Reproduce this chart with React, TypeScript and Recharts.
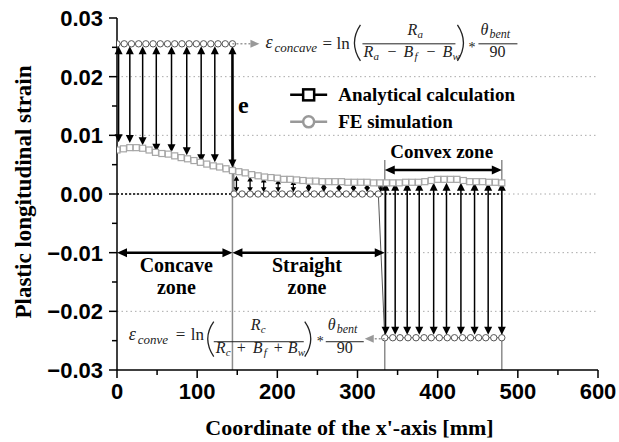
import React from 'react';
import { ComposedChart, Line, XAxis, YAxis, ReferenceLine, ReferenceDot } from 'recharts';

// FE simulation curve (square markers), x' in mm
const feX = [0, 8, 16, 24, 32, 40, 48, 56, 64, 72, 80, 88, 96, 104, 112, 120, 128, 136, 144, 152, 160, 168, 176, 184, 192, 200, 208, 216, 224, 232, 240, 248, 256, 264, 272, 280, 288, 296, 304, 312, 320, 328, 336, 344, 352, 360, 368, 376, 384, 392, 400, 408, 416, 424, 432, 440, 448, 456, 464, 472, 480];
const feStrain = [0.0075, 0.0077, 0.0079, 0.0079, 0.0078, 0.0075, 0.0071, 0.0069, 0.0068, 0.0065, 0.0062, 0.006, 0.0057, 0.0054, 0.0051, 0.0048, 0.0046, 0.0043, 0.004, 0.0038, 0.0036, 0.0033, 0.0031, 0.0029, 0.0028, 0.0027, 0.0025, 0.0025, 0.0024, 0.0023, 0.0022, 0.0022, 0.0021, 0.0021, 0.0021, 0.0021, 0.002, 0.002, 0.002, 0.002, 0.0019, 0.0019, 0.0019, 0.0019, 0.0019, 0.002, 0.002, 0.002, 0.0021, 0.0023, 0.0025, 0.0025, 0.0025, 0.0025, 0.0023, 0.0021, 0.0021, 0.0021, 0.002, 0.002, 0.0019];

// Analytical calculation (step, circle markers)
const anaX = [0, 9, 18, 27, 36, 45, 54, 63, 72, 81, 90, 99, 108, 117, 126, 135, 144, 146, 156, 166, 176, 186, 196, 206, 216, 226, 236, 246, 256, 266, 276, 286, 296, 306, 316, 326, 334, 344, 353, 363, 373, 383, 392, 402, 412, 421, 431, 441, 451, 460, 470, 480];
const anaStrain = [0.0256, 0.0256, 0.0256, 0.0256, 0.0256, 0.0256, 0.0256, 0.0256, 0.0256, 0.0256, 0.0256, 0.0256, 0.0256, 0.0256, 0.0256, 0.0256, 0.0256, 0, 0, 0, 0, 0, 0, 0, 0, 0, 0, 0, 0, 0, 0, 0, 0, 0, 0, 0, -0.0245, -0.0245, -0.0245, -0.0245, -0.0245, -0.0245, -0.0245, -0.0245, -0.0245, -0.0245, -0.0245, -0.0245, -0.0245, -0.0245, -0.0245, -0.0245];

// difference arrows
const concaveArrowX = [2, 16, 32, 49, 68, 87, 105, 122, 144];
const concaveArrowLow = [0.0088, 0.0087, 0.0083, 0.0072, 0.0071, 0.0066, 0.0054, 0.0054, 0.0045];
const concaveArrowHigh = 0.0252;
const straightArrowX = [149, 166, 183, 201, 220, 239, 258, 277, 295, 312, 329];
const straightArrowHigh = [0.0031, 0.003, 0.0028, 0.0025, 0.0024, 0.0019, 0.0019, 0.0018, 0.0018, 0.0018, 0.0021];
const straightArrowLow = 0.0003;
const convexArrowX = [335, 347, 362, 377, 395, 411, 429, 446, 463, 480];
const convexArrowHigh = 0.0019;
const convexArrowLow = -0.024;

// zones
const zoneBounds = [0, 144, 334, 480];
const zoneNames = ['Concave', 'Straight', 'Convex zone'];
const zoneLabelX = [74, 237, 405];
const zoneArrowY = [-0.01, -0.01, 0.0041];
const zoneLineTop = [0.0256, 0.0058, 0.0058];

const xTicks = [0, 50, 100, 150, 200, 250, 300, 350, 400, 450, 500, 550, 600];
const yTicks = [-0.03, -0.025, -0.02, -0.015, -0.01, -0.005, 0, 0.005, 0.01, 0.015, 0.02, 0.025, 0.03];
const yGrid = [0.02, 0.01, 0, -0.01, -0.02];

const feData = feX.map((x, i) => ({ x, strain: feStrain[i] }));
const anaData = anaX.map((x, i) => ({ x, strain: anaStrain[i] }));

const SANS = '"Liberation Sans", Arial, sans-serif';
const SERIF = '"Liberation Serif", "Times New Roman", serif';

const YTick = (p: any) => {
  const v = p.payload.value;
  const major = Math.abs(v * 100 - Math.round(v * 100)) < 1e-6;
  const txt = v.toFixed(2).replace('-', '\u2212');
  return (
    <g>
      <line x1={p.x - (major ? 8 : 5)} x2={p.x} y1={p.y} y2={p.y} stroke="#000" strokeWidth={1.5} />
      {major && (
        <text x={p.x - 14} y={p.y + 8} textAnchor="end" fontFamily={SANS} fontWeight="bold" fontSize={22} fill="#000">
          {txt}
        </text>
      )}
    </g>
  );
};

const XTick = (p: any) => {
  const v = p.payload.value;
  const major = v % 100 === 0;
  return (
    <g>
      <line x1={p.x} x2={p.x} y1={p.y} y2={p.y + (major ? 8 : 5)} stroke="#000" strokeWidth={1.5} />
      {major && (
        <text x={p.x} y={p.y + 29} textAnchor="middle" fontFamily={SANS} fontWeight="bold" fontSize={22} fill="#000">
          {v}
        </text>
      )}
    </g>
  );
};

// double headed arrow drawn along a reference segment
const arrow = (w: number, len: number, half: number) => (p: any) => {
  const { x1, y1, x2, y2 } = p;
  const L = Math.hypot(x2 - x1, y2 - y1) || 1;
  const ux = (x2 - x1) / L;
  const uy = (y2 - y1) / L;
  const nx = -uy;
  const ny = ux;
  const head = (tx: number, ty: number, dx: number, dy: number) =>
    `${tx},${ty} ${tx - dx * len + nx * half},${ty - dy * len + ny * half} ${tx - dx * len - nx * half},${ty - dy * len - ny * half}`;
  const inset = Math.min(len * 0.7, L / 2);
  return (
    <g>
      <line x1={x1 + ux * inset} y1={y1 + uy * inset} x2={x2 - ux * inset} y2={y2 - uy * inset} stroke="#000" strokeWidth={w} />
      <polygon points={head(x2, y2, ux, uy)} fill="#000" />
      <polygon points={head(x1, y1, -ux, -uy)} fill="#000" />
    </g>
  );
};

const SquareDot = (p: any) => (
  <rect key={`s${p.index}`} x={p.cx - 3} y={p.cy - 3} width={6} height={6} fill="#fff" stroke="#a6a6a6" strokeWidth={1.2} />
);
const CircleDot = (p: any) => (
  <circle key={`c${p.index}`} cx={p.cx} cy={p.cy} r={3.2} fill="#fff" stroke="#555" strokeWidth={1} />
);

const it = { fontFamily: SERIF, fontStyle: 'italic' as const, fill: '#222' };
const up = { fontFamily: SERIF, fill: '#222' };

const TopFormula = (p: any) => (
  <g transform={`translate(${p.cx},${p.cy})`}>
    <line x1={0} x2={18} y1={0} y2={0} stroke="#999" strokeWidth={1.5} strokeDasharray="2 2" />
    <polygon points="18,-4 27,0 18,4" fill="#999" />
    <text x={33} y={4} fontSize={18} {...it}>ε</text>
    <text x={42} y={8} fontSize={13} {...it}>concave</text>
    <text x={90} y={5} fontSize={17} {...up}>=</text>
    <text x={104} y={5} fontSize={17} {...up}>ln</text>
    <path d="M128,-19 Q116,-1 128,17" fill="none" stroke="#222" strokeWidth={1.3} />
    <text x={175} y={-9} fontSize={16} {...it}>R</text>
    <text x={185} y={-6} fontSize={11} {...it}>a</text>
    <line x1={130} x2={223} y1={0} y2={0} stroke="#222" strokeWidth={1} />
    <text x={131} y={13} fontSize={16} {...it}>R</text>
    <text x={141} y={16} fontSize={11} {...it}>a</text>
    <text x={155} y={13} fontSize={16} {...up}>−</text>
    <text x={171} y={13} fontSize={16} {...it}>B</text>
    <text x={182} y={16} fontSize={11} {...it}>f</text>
    <text x={194} y={13} fontSize={16} {...up}>−</text>
    <text x={210} y={13} fontSize={16} {...it}>B</text>
    <text x={220} y={16} fontSize={11} {...it}>w</text>
    <path d="M225,-19 Q237,-1 225,17" fill="none" stroke="#222" strokeWidth={1.3} />
    <text x={236} y={8} fontSize={14} {...up}>*</text>
    <text x={248} y={-9} fontSize={16} {...it}>θ</text>
    <text x={257} y={-6} fontSize={12} {...it}>bent</text>
    <line x1={246} x2={285} y1={0} y2={0} stroke="#222" strokeWidth={1} />
    <text x={265} y={13} fontSize={16} textAnchor="middle" {...up}>90</text>
  </g>
);

const BottomFormula = (p: any) => (
  <g transform={`translate(${p.cx},${p.cy})`}>
    <line x1={0} x2={-11} y1={1} y2={1} stroke="#999" strokeWidth={1.5} strokeDasharray="2 2" />
    <polygon points="-11,-3 -20,1 -11,5" fill="#999" />
    <text x={-256} y={2} fontSize={18} {...it}>ε</text>
    <text x={-247} y={6} fontSize={13} {...it}>conve</text>
    <text x={-209} y={2} fontSize={17} {...up}>=</text>
    <text x={-194} y={2} fontSize={17} {...up}>ln</text>
    <path d="M-171,-16 Q-183,1 -171,19" fill="none" stroke="#222" strokeWidth={1.3} />
    <text x={-134} y={-8} fontSize={16} {...it}>R</text>
    <text x={-124} y={-5} fontSize={11} {...it}>c</text>
    <line x1={-171} x2={-81} y1={4} y2={4} stroke="#222" strokeWidth={1} />
    <text x={-169} y={15} fontSize={16} {...it}>R</text>
    <text x={-159} y={18} fontSize={11} {...it}>c</text>
    <text x={-148} y={15} fontSize={16} {...up}>+</text>
    <text x={-132} y={15} fontSize={16} {...it}>B</text>
    <text x={-121} y={18} fontSize={11} {...it}>f</text>
    <text x={-111} y={15} fontSize={16} {...up}>+</text>
    <text x={-97} y={15} fontSize={16} {...it}>B</text>
    <text x={-87} y={18} fontSize={11} {...it}>w</text>
    <path d="M-80,-16 Q-68,1 -80,19" fill="none" stroke="#222" strokeWidth={1.3} />
    <text x={-68} y={8} fontSize={14} {...up}>*</text>
    <text x={-57} y={-8} fontSize={16} {...it}>θ</text>
    <text x={-48} y={-5} fontSize={12} {...it}>bent</text>
    <line x1={-59} x2={-21} y1={4} y2={4} stroke="#222" strokeWidth={1} />
    <text x={-40} y={15} fontSize={16} textAnchor="middle" {...up}>90</text>
  </g>
);

const LegendBox = (p: any) => (
  <g transform={`translate(${p.cx},${p.cy})`}>
    <line x1={0} x2={37} y1={0} y2={0} stroke="#000" strokeWidth={2.5} />
    <rect x={13} y={-5.5} width={11} height={11} fill="#fff" stroke="#000" strokeWidth={2.5} />
    <text x={48} y={6} fontFamily={SERIF} fontWeight="bold" fontSize={19} fill="#000">Analytical calculation</text>
    <line x1={0} x2={37} y1={27} y2={27} stroke="#999" strokeWidth={2.5} />
    <circle cx={18.5} cy={27} r={5.5} fill="#fff" stroke="#999" strokeWidth={2.5} />
    <text x={48} y={33} fontFamily={SERIF} fontWeight="bold" fontSize={19} fill="#000">FE simulation</text>
  </g>
);

const boldText = (lines: string[], size: number, gap: number, anchor = 'middle') => (p: any) => (
  <g>
    {lines.map((s, i) => (
      <text key={i} x={p.cx} y={p.cy + i * gap} textAnchor={anchor} fontFamily={SERIF} fontWeight="bold" fontSize={size} fill="#000">
        {s}
      </text>
    ))}
  </g>
);

const YTitle = (p: any) => (
  <text
    transform={`translate(${p.cx - 86},${p.cy - 2}) rotate(-90)`}
    textAnchor="middle"
    fontFamily={SERIF}
    fontWeight="bold"
    fontSize={23}
    fill="#000"
  >
    Plastic longitudinal strain
  </text>
);

const XTitle = (p: any) => (
  <text x={p.cx} y={p.cy + 65} textAnchor="middle" fontFamily={SERIF} fontWeight="bold" fontSize={22} fill="#000">
    Coordinate of the x'-axis [mm]
  </text>
);

export default function App() {
  return (
    <div style={{ position: 'absolute', left: 0, top: 0, background: '#fff' }}>
      <ComposedChart width={619} height={442} margin={{ top: 18, right: 21, bottom: 0, left: 0 }}>
        <XAxis
          type="number"
          dataKey="x"
          domain={[0, 600]}
          ticks={xTicks}
          interval={0}
          tickLine={false}
          tickSize={0}
          tickMargin={0}
          tick={XTick}
          height={72}
          axisLine={{ stroke: '#000', strokeWidth: 1.5 }}
          allowDataOverflow
        />
        <YAxis
          type="number"
          domain={[-0.03, 0.03]}
          ticks={yTicks}
          interval={0}
          tickLine={false}
          tickSize={0}
          tickMargin={0}
          tick={YTick}
          width={117}
          axisLine={{ stroke: '#000', strokeWidth: 1.5 }}
          allowDataOverflow
        />

        {yGrid.map((y) => (
          <ReferenceLine key={`g${y}`} y={y} stroke="#aaa" strokeWidth={1} strokeDasharray="1.5 3" />
        ))}
        <ReferenceLine segment={[{ x: 0, y: 0 }, { x: zoneBounds[3], y: 0 }]} stroke="#000" strokeWidth={1.5} strokeDasharray="2 2" />

        {zoneBounds.slice(1).map((x, i) => (
          <ReferenceLine key={`z${x}`} segment={[{ x, y: zoneLineTop[i] }, { x, y: -0.03 }]} stroke="#8c8c8c" strokeWidth={1.5} />
        ))}

        <Line data={feData} dataKey="strain" name="FE simulation" stroke="none" dot={SquareDot} activeDot={false} isAnimationActive={false} legendType="none" />
        <Line data={anaData} dataKey="strain" name="Analytical calculation" stroke="#555" strokeWidth={1} dot={CircleDot} activeDot={false} isAnimationActive={false} legendType="none" />

        {concaveArrowX.map((x, i) => (
          <ReferenceLine
            key={`ca${x}`}
            segment={[{ x, y: concaveArrowHigh }, { x, y: concaveArrowLow[i] }]}
            shape={arrow(i === concaveArrowX.length - 1 ? 2.5 : 1.5, 8, 4)}
          />
        ))}
        {straightArrowX.map((x, i) => (
          <ReferenceLine
            key={`sa${x}`}
            segment={[{ x, y: straightArrowHigh[i] }, { x, y: straightArrowLow }]}
            shape={arrow(1.3, 5, 2.8)}
          />
        ))}
        {convexArrowX.map((x) => (
          <ReferenceLine key={`va${x}`} segment={[{ x, y: convexArrowHigh }, { x, y: convexArrowLow }]} shape={arrow(1.5, 8, 4)} />
        ))}

        {zoneNames.map((n, i) => (
          <ReferenceLine
            key={`za${n}`}
            segment={[{ x: zoneBounds[i], y: zoneArrowY[i] }, { x: zoneBounds[i + 1], y: zoneArrowY[i] }]}
            shape={arrow(2.5, 10, 4.5)}
          />
        ))}

        <ReferenceDot x={zoneLabelX[0]} y={-0.0133} r={0} shape={boldText(['Concave', 'zone'], 20, 22)} />
        <ReferenceDot x={zoneLabelX[1]} y={-0.0133} r={0} shape={boldText(['Straight', 'zone'], 20, 22)} />
        <ReferenceDot x={zoneLabelX[2]} y={0.0061} r={0} shape={boldText(['Convex zone'], 19, 0)} />
        <ReferenceDot x={151} y={0.0138} r={0} shape={boldText(['e'], 24, 0, 'start')} />

        <ReferenceDot x={zoneBounds[1]} y={anaStrain[0]} r={0} shape={TopFormula} />
        <ReferenceDot x={zoneBounds[2]} y={anaStrain[anaStrain.length - 1]} r={0} shape={BottomFormula} />
        <ReferenceDot x={216} y={0.0169} r={0} shape={LegendBox} />

        <ReferenceDot x={0} y={0} r={0} shape={YTitle} />
        <ReferenceDot x={290} y={-0.03} r={0} shape={XTitle} />
      </ComposedChart>
    </div>
  );
}
